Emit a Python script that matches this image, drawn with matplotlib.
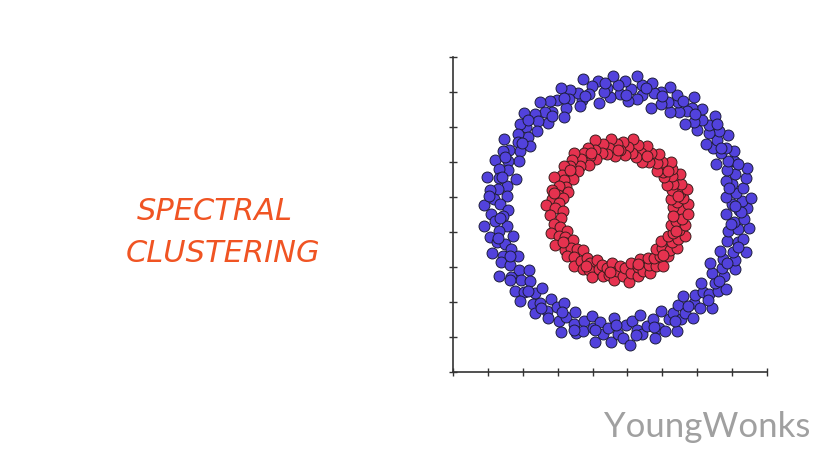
import numpy as np
import matplotlib
matplotlib.use('Agg')
from matplotlib import pyplot as plt

# outer ring: (angle in degrees, distance from centre)
outer_ring = [
    (0, 3.46), (1, 3.70), (3, 3.28), (4, 3.55), (5, 3.84), (7, 3.12), (8, 3.41), (10, 3.63), (13, 3.35), (14, 3.78),
    (15, 3.20), (17, 3.50), (18, 3.88), (20, 3.31), (23, 3.60), (24, 3.44), (25, 3.09), (27, 3.72), (29, 3.38), (30, 3.56),
    (33, 3.25), (34, 3.81), (35, 3.47), (37, 3.15), (38, 3.66), (40, 3.40), (43, 3.58), (44, 3.86), (45, 3.22), (47, 3.52),
    (49, 3.34), (50, 3.75), (52, 3.10), (54, 3.62), (55, 3.45), (56, 3.90), (58, 3.29), (61, 3.54), (62, 3.18), (63, 3.70),
    (65, 3.42), (67, 3.83), (68, 3.26), (70, 3.59), (72, 3.07), (73, 3.49), (75, 3.77), (78, 3.36), (79, 3.64), (80, 3.21),
    (82, 3.87), (84, 3.48), (85, 3.13), (87, 3.68), (89, 3.32), (90, 3.57), (92, 3.82), (94, 3.24), (95, 3.51), (97, 3.39),
    (99, 3.74), (100, 3.11), (102, 3.61), (104, 3.43), (105, 3.89), (108, 3.30), (109, 3.55), (110, 3.17), (112, 3.71), (114, 3.46),
    (115, 3.85), (117, 3.27), (119, 3.58), (120, 3.08), (122, 3.66), (124, 3.37), (126, 3.80), (127, 3.50), (129, 3.19), (131, 3.63),
    (132, 3.41), (134, 3.87), (136, 3.23), (138, 3.54), (139, 3.73), (141, 3.33), (143, 3.60), (144, 3.12), (146, 3.47), (148, 3.84),
    (149, 3.28), (151, 3.56), (153, 3.69), (154, 3.16), (156, 3.44), (158, 3.79), (160, 3.35), (161, 3.62), (163, 3.06), (165, 3.52),
    (166, 3.88), (168, 3.26), (170, 3.48), (171, 3.71), (173, 3.20), (175, 3.58), (177, 3.40), (178, 3.83), (180, 3.14), (182, 3.65),
    (183, 3.31), (185, 3.53), (187, 3.86), (188, 3.22), (190, 3.45), (192, 3.74), (194, 3.10), (195, 3.59), (197, 3.38), (199, 3.81),
    (200, 3.27), (202, 3.55), (204, 3.67), (205, 3.15), (207, 3.49), (209, 3.89), (211, 3.32), (212, 3.61), (214, 3.07), (216, 3.43),
    (218, 3.76), (219, 3.24), (221, 3.57), (223, 3.84), (225, 3.36), (226, 3.12), (228, 3.64), (230, 3.47), (231, 3.80), (233, 3.21),
    (235, 3.53), (237, 3.70), (238, 3.29), (240, 3.09), (242, 3.60), (244, 3.42), (245, 3.87), (247, 3.18), (249, 3.51), (251, 3.73),
    (253, 3.34), (254, 3.62), (256, 3.13), (258, 3.46), (260, 3.85), (261, 3.25), (263, 3.57), (265, 3.39), (267, 3.78), (268, 3.11),
    (270, 3.54), (272, 3.68), (274, 3.30), (275, 3.88), (277, 3.19), (279, 3.49), (281, 3.63), (282, 3.08), (284, 3.41), (286, 3.82),
    (288, 3.27), (289, 3.58), (291, 3.72), (293, 3.15), (295, 3.45), (296, 3.86), (298, 3.33), (300, 3.61), (302, 3.22), (303, 3.52),
    (305, 3.77), (307, 3.10), (309, 3.44), (310, 3.66), (312, 3.28), (314, 3.89), (316, 3.37), (317, 3.55), (319, 3.17), (321, 3.70),
    (323, 3.48), (324, 3.83), (326, 3.24), (328, 3.59), (330, 3.06), (331, 3.42), (333, 3.75), (335, 3.31), (337, 3.64), (338, 3.14),
    (340, 3.50), (342, 3.87), (344, 3.26), (345, 3.56), (347, 3.69), (349, 3.20), (351, 3.47), (352, 3.80), (354, 3.35), (356, 3.62),
    (358, 3.11), (359, 3.53),
    (2, 3.36), (11, 3.24), (21, 3.67), (31, 3.43), (41, 3.74), (51, 3.52), (59, 3.62), (69, 3.48), (77, 3.57), (86, 3.30),
    (96, 3.66), (106, 3.40), (116, 3.55), (125, 3.29), (135, 3.63), (145, 3.36), (155, 3.58), (164, 3.45), (174, 3.73), (184, 3.40),
    (193, 3.52), (203, 3.35), (213, 3.68), (222, 3.47), (232, 3.58), (241, 3.34), (250, 3.65), (259, 3.50), (269, 3.30), (278, 3.62),
    (287, 3.50), (297, 3.57), (306, 3.40), (315, 3.63), (325, 3.53), (334, 3.46), (343, 3.60), (353, 3.25),
]

# inner ring
inner_ring = [
    (1, 1.80), (3, 1.58), (5, 2.02), (8, 1.71), (10, 1.90), (12, 1.54), (15, 1.84), (17, 2.08), (20, 1.66), (22, 1.95),
    (25, 1.75), (27, 1.56), (30, 2.04), (32, 1.82), (35, 1.62), (37, 1.92), (40, 1.70), (42, 2.06), (45, 1.59), (47, 1.86),
    (50, 1.74), (54, 1.98), (57, 1.64), (60, 1.88), (63, 1.53), (66, 2.01), (68, 1.77), (71, 1.60), (73, 1.93), (76, 1.68),
    (78, 2.07), (81, 1.83), (83, 1.57), (86, 1.96), (88, 1.72), (91, 1.89), (93, 1.55), (96, 2.03), (98, 1.79), (101, 1.63),
    (103, 1.94), (106, 1.69), (108, 2.09), (111, 1.85), (113, 1.58), (116, 1.97), (118, 1.73), (121, 1.91), (123, 1.54), (126, 1.81),
    (128, 2.05), (131, 1.67), (133, 1.94), (136, 1.61), (138, 1.87), (141, 2.00), (143, 1.71), (146, 1.56), (148, 1.90), (151, 1.76),
    (153, 2.06), (156, 1.64), (158, 1.84), (161, 1.53), (163, 1.99), (166, 1.78), (168, 1.60), (171, 1.93), (173, 1.70), (176, 2.08),
    (178, 1.82), (181, 1.57), (184, 1.95), (188, 1.66), (192, 1.88), (196, 1.74), (199, 2.02), (202, 1.59), (204, 1.86), (207, 1.69),
    (209, 2.05), (212, 1.77), (214, 1.55), (217, 1.92), (219, 1.72), (222, 1.98), (224, 1.62), (227, 1.85), (229, 1.53), (232, 2.04),
    (234, 1.80), (237, 1.65), (239, 1.96), (242, 1.73), (244, 1.90), (247, 1.57), (249, 2.07), (252, 1.79), (254, 1.63), (257, 1.94),
    (259, 1.70), (262, 1.87), (264, 1.54), (267, 2.01), (269, 1.76), (272, 1.61), (274, 1.91), (277, 1.68), (279, 2.09), (282, 1.84),
    (284, 1.58), (287, 1.97), (289, 1.74), (292, 1.89), (294, 1.55), (297, 2.03), (299, 1.81), (302, 1.64), (304, 1.93), (307, 1.71),
    (309, 2.06), (312, 1.78), (314, 1.56), (317, 1.95), (319, 1.67), (322, 1.88), (324, 1.53), (327, 2.00), (329, 1.79), (332, 1.62),
    (334, 1.92), (337, 1.72), (339, 2.05), (342, 1.83), (344, 1.59), (347, 1.96), (349, 1.69), (352, 1.86), (354, 1.57), (357, 2.02),
    (13, 1.76), (38, 1.80), (62, 1.76), (90, 1.70), (115, 1.80), (140, 1.78), (165, 1.90), (210, 1.82), (240, 1.85),
    (263, 1.80), (290, 1.65), (315, 1.84), (340, 1.78),
]

centre = (4.73, 4.63)
ticks = list(range(10))


def to_xy(ring):
    '''polar (deg, r) around the centre -> x, y in axis units'''
    a = np.radians([p[0] for p in ring])
    r = np.array([p[1] for p in ring])
    return centre[0] + r * np.cos(a), centre[1] + r * np.sin(a)


fig = plt.figure(figsize=(8.4, 4.73), dpi=100)
ax = fig.add_axes([0.5393, 0.2142, 0.3738, 0.665])

xo, yo = to_xy(outer_ring)
xi, yi = to_xy(inner_ring)
ax.scatter(xo, yo, s=62, color='#5242dc', edgecolors='#1c1c3c', linewidths=0.7, zorder=3)
ax.scatter(xi, yi, s=62, color='#e6324f', edgecolors='#3c1c1c', linewidths=0.7, zorder=3)

ax.set_xlim(0, 9)
ax.set_ylim(0, 9)
ax.set_xticks(ticks)
ax.set_yticks(ticks)
ax.set_xticklabels([])
ax.set_yticklabels([])
ax.tick_params(direction='inout', length=6, width=1, color='#333333')
for side in ['top', 'right']:
    ax.spines[side].set_visible(False)
for side in ['left', 'bottom']:
    ax.spines[side].set_color('#333333')
    ax.spines[side].set_linewidth(1.2)

fig.text(215 / 840, 1 - 211 / 473, 'SPECTRAL', color='#f05423', fontsize=22,
         family='DejaVu Sans', style='oblique', ha='center', va='center')
fig.text(223 / 840, 1 - 254 / 473, 'CLUSTERING', color='#f05423', fontsize=22,
         family='DejaVu Sans', style='oblique', ha='center', va='center')
fig.text(707 / 840, 1 - 437 / 473, 'YoungWonks', color='#a0a0a0', fontsize=25,
         family='Lato', ha='center', va='baseline')

fig.savefig('out.png', dpi=100)
